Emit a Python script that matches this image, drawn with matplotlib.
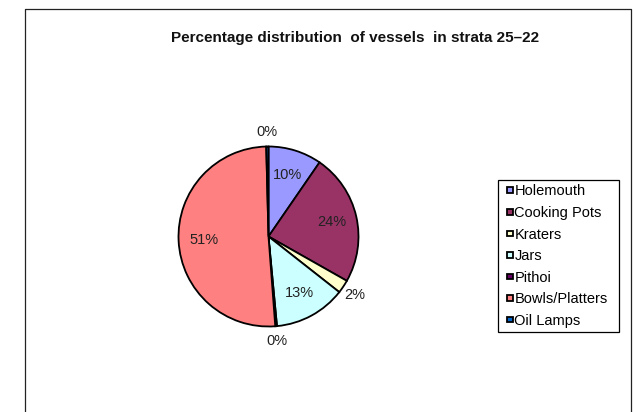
import matplotlib
matplotlib.use("Agg")
import matplotlib.pyplot as plt
from matplotlib.lines import Line2D
from matplotlib.patches import Rectangle
from matplotlib.legend_handler import HandlerPatch
import numpy as np

plt.rcParams['font.family'] = ['Liberation Sans', 'DejaVu Sans']

categories = ["Holemouth", "Cooking Pots", "Kraters", "Jars", "Pithoi",
              "Bowls/Platters", "Oil Lamps"]
shares = [9.6, 23.6, 2.4, 12.9, 0.3, 50.8, 0.4]
colors = ["#9999FF", "#993366", "#FFFFCC", "#CCFFFF", "#660066",
          "#FF8080", "#0066CC"]
title = "Percentage distribution  of vessels  in strata 25\u201322"

W, H = 633, 412
fig = plt.figure(figsize=(W / 100, H / 100), dpi=100)
fig.patch.set_facecolor("white")

# chart-area frame (open at the bottom edge of the image)
x0, x1, ytop = 25 / W, 630.5 / W, 1 - 9 / H
fig.add_artist(Line2D([x0, x0, x1, x1], [0, ytop, ytop, 0],
                      transform=fig.transFigure, color="#222222", lw=0.9))

fig.text(355 / W, 1 - 38 / H, title, ha="center", va="center",
         fontsize=11, fontweight="bold", color="#111111")

# pie axes: centre (268.5, 236.5) px, radius ~90 px
cx, cy, r = 268.5, 236.5, 90.0
half = 100.0
ax = fig.add_axes([(cx - half) / W, (H - cy - half) / H, 2 * half / W, 2 * half / H])

wedges, texts, autotexts = ax.pie(
    shares, colors=colors, startangle=90, counterclock=False,
    autopct="%1.0f%%", pctdistance=0.72, radius=1.0,
    wedgeprops=dict(edgecolor="black", linewidth=1.3),
    textprops=dict(fontsize=10.5, color="#222222"))

ax.set_xlim(-half / r, half / r)
ax.set_ylim(-half / r, half / r)
ax.set_aspect("equal")
ax.axis("off")

# small slices get their labels outside the pie
for w, t, v in zip(wedges, autotexts, shares):
    if v < 3:
        ang = np.deg2rad((w.theta1 + w.theta2) / 2)
        t.set_position((1.16 * np.cos(ang), 1.16 * np.sin(ang)))


def small_square(legend, orig_handle, xdescent, ydescent, width, height, fontsize):
    s = 0.38 * fontsize
    return Rectangle((width - s - xdescent, (height - s) / 2 - ydescent), s, s)


leg = fig.legend(wedges, categories, loc="upper left",
                 bbox_to_anchor=(498 / W, 1 - 333 / H, 121 / W, 153 / H),
                 mode="expand",
                 handler_map={w: HandlerPatch(patch_func=small_square) for w in wedges},
                 frameon=True, fancybox=False, framealpha=1,
                 edgecolor="black", fontsize=10.5,
                 handlelength=0.72, handleheight=0.5, handletextpad=0.1,
                 labelspacing=0.52, borderpad=0.3, borderaxespad=0)
leg.get_frame().set_linewidth(0.9)

fig.savefig("out.png", dpi=100, facecolor="white")
